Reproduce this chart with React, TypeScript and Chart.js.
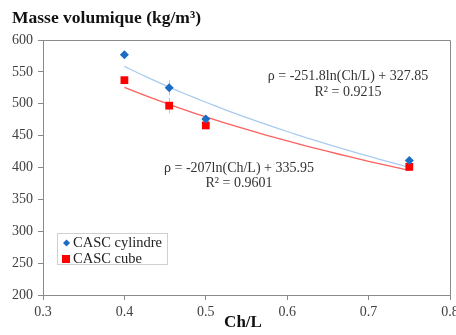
import React, { useEffect, useRef } from "react";
import { Chart, registerables } from "chart.js";

Chart.register(...registerables);

// Measured series: slenderness ratio Ch/L vs. density (kg/m³)
const chL = [0.4, 0.455, 0.5, 0.75];
const cylindre = [577, 525, 476, 411];
const cube = [537, 497, 466, 401];
const cylindreErr = [0, 12, 0, 0];
const cubeErr = [0, 12, 0, 0];

const xTicks = [0.3, 0.4, 0.5, 0.6, 0.7, 0.8];
const yTicks = [200, 250, 300, 350, 400, 450, 500, 550, 600];

// Logarithmic fits: rho = a*ln(Ch/L) + b
const cylFit = { a: -251.8, b: 327.85, r2: "0.9215" };
const cubeFit = { a: -207, b: 335.95, r2: "0.9601" };
const fitSamples = [0.4, 0.425, 0.45, 0.475, 0.5, 0.525, 0.55, 0.575, 0.6, 0.625, 0.65, 0.675, 0.7, 0.725, 0.75];

const cylLabel = "ρ = -251.8ln(Ch/L) + 327.85";
const cubeLabel = "ρ = -207ln(Ch/L) + 335.95";

const SERIF = "'Liberation Serif', 'Times New Roman', serif";
const BLUE = "#1c6cc4";
const RED = "#ff0000";
const AXIS = "#8a8a8a";

const fitPoints = (f: { a: number; b: number }) =>
  fitSamples.map((x) => ({ x, y: f.a * Math.log(x) + f.b }));

const overlay = {
  id: "overlay",
  beforeDatasetsDraw(chart: any) {
    const { ctx, chartArea: a, scales } = chart;
    ctx.save();
    // frame around the plot area
    ctx.strokeStyle = AXIS;
    ctx.lineWidth = 1;
    ctx.beginPath();
    ctx.moveTo(a.left, a.top + 0.5);
    ctx.lineTo(a.right + 0.5, a.top + 0.5);
    ctx.lineTo(a.right + 0.5, a.bottom);
    ctx.stroke();
    // error bars
    ctx.strokeStyle = "#c4c4c4";
    const bars = [
      { ys: cylindre, es: cylindreErr },
      { ys: cube, es: cubeErr },
    ];
    bars.forEach(({ ys, es }) => {
      ys.forEach((y: number, i: number) => {
        if (!es[i]) return;
        const px = Math.round(scales.x.getPixelForValue(chL[i])) + 0.5;
        ctx.beginPath();
        ctx.moveTo(px, scales.y.getPixelForValue(y + es[i]));
        ctx.lineTo(px, scales.y.getPixelForValue(y - es[i]));
        ctx.stroke();
      });
    });
    ctx.restore();
  },
  afterDraw(chart: any) {
    const { ctx } = chart;
    ctx.save();
    // axis titles
    ctx.fillStyle = "#111";
    ctx.textBaseline = "middle";
    ctx.textAlign = "left";
    ctx.font = `bold 17.5px ${SERIF}`;
    ctx.fillText("Masse volumique (kg/m³)", 12, 18);
    ctx.textAlign = "center";
    ctx.font = `bold 17px ${SERIF}`;
    ctx.fillText("Ch/L", 243, 323);

    // fit equations
    ctx.font = `14px ${SERIF}`;
    ctx.fillStyle = "#333";
    ctx.fillText(cylLabel, 348, 76);
    ctx.fillText(`R² = ${cylFit.r2}`, 348, 92);
    ctx.fillText(cubeLabel, 239, 168);
    ctx.fillText(`R² = ${cubeFit.r2}`, 239, 183);

    // legend
    ctx.strokeStyle = "#d0d0d0";
    ctx.lineWidth = 1;
    ctx.strokeRect(57.5, 233.5, 110, 31);
    ctx.textAlign = "left";
    ctx.fillStyle = "#222";
    ctx.font = `14.5px ${SERIF}`;
    ctx.fillText("CASC cylindre", 73, 243);
    ctx.fillText("CASC cube", 73, 259);
    ctx.fillStyle = BLUE;
    ctx.beginPath();
    ctx.moveTo(66.5, 239.5);
    ctx.lineTo(70, 243);
    ctx.lineTo(66.5, 246.5);
    ctx.lineTo(63, 243);
    ctx.closePath();
    ctx.fill();
    ctx.fillStyle = RED;
    ctx.fillRect(62, 255, 8, 8);
    ctx.restore();
  },
};

export default function App() {
  const ref = useRef<HTMLCanvasElement>(null);

  useEffect(() => {
    if (!ref.current) return;
    const chart = new Chart(ref.current, {
      type: "scatter",
      data: {
        datasets: [
          {
            label: "CASC cylindre",
            data: chL.map((x, i) => ({ x, y: cylindre[i] })),
            pointStyle: "rectRot",
            pointRadius: 4.5,
            backgroundColor: BLUE,
            borderColor: BLUE,
            borderWidth: 0,
            order: 0,
          },
          {
            label: "CASC cube",
            data: chL.map((x, i) => ({ x, y: cube[i] })),
            pointStyle: "rect",
            pointRadius: 5.5,
            backgroundColor: RED,
            borderColor: RED,
            borderWidth: 0,
            order: 1,
          },
          {
            type: "line",
            label: "fit cylindre",
            data: fitPoints(cylFit),
            borderColor: "#a9cbee",
            borderWidth: 1.3,
            pointRadius: 0,
            fill: false,
            tension: 0.3,
            order: 2,
          } as any,
          {
            type: "line",
            label: "fit cube",
            data: fitPoints(cubeFit),
            borderColor: "#ff6060",
            borderWidth: 1.3,
            pointRadius: 0,
            fill: false,
            tension: 0.3,
            order: 3,
          } as any,
        ],
      },
      options: {
        animation: false,
        responsive: false,
        devicePixelRatio: 1,
        layout: { padding: { top: 40, right: 26, left: 0, bottom: 0 } },
        plugins: {
          legend: { display: false },
          tooltip: { enabled: false },
          title: { display: false },
        },
        scales: {
          x: {
            type: "linear",
            min: 0.3,
            max: 0.8,
            afterFit: (s: any) => {
              s.height = 40;
            },
            afterBuildTicks: (s: any) => {
              s.ticks = xTicks.map((v) => ({ value: v }));
            },
            grid: {
              display: true,
              drawOnChartArea: false,
              drawTicks: true,
              tickLength: 5,
              color: AXIS,
            },
            border: { display: true, color: AXIS, width: 1 },
            ticks: {
              padding: 4,
              color: "#404040",
              font: { family: SERIF, size: 14 },
              callback: (v: any) => String(v),
            },
          },
          y: {
            type: "linear",
            min: 200,
            max: 600,
            afterFit: (s: any) => {
              s.width = 43;
            },
            afterBuildTicks: (s: any) => {
              s.ticks = yTicks.map((v) => ({ value: v }));
            },
            grid: {
              display: true,
              drawOnChartArea: false,
              drawTicks: true,
              tickLength: 5,
              color: AXIS,
            },
            border: { display: true, color: AXIS, width: 1 },
            ticks: {
              padding: 5,
              color: "#404040",
              font: { family: SERIF, size: 14 },
            },
          },
        },
      },
      plugins: [overlay],
    });
    return () => chart.destroy();
  }, []);

  return (
    <div
      style={{
        position: "fixed",
        left: 0,
        top: 0,
        width: 456,
        height: 335,
        overflow: "hidden",
        background: "#fff",
      }}
    >
      <canvas ref={ref} width={476} height={335} style={{ display: "block" }} />
    </div>
  );
}
